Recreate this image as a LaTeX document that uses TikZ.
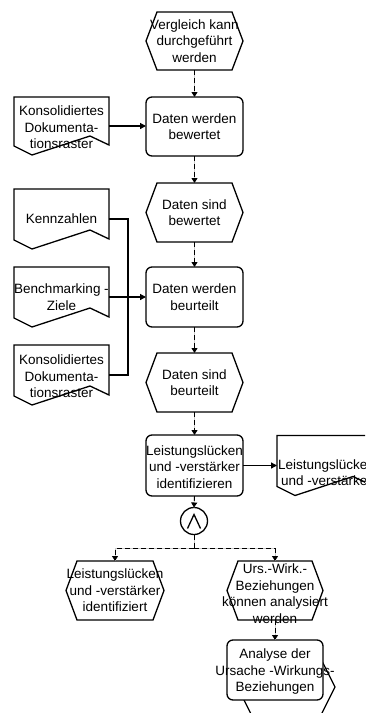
\documentclass[tikz,border=0pt]{standalone}
\usepackage{fontspec}
\setmainfont{Liberation Sans}
\usetikzlibrary{arrows.meta}

% hexagonal event outline around a (rectangular) node: #1 node, #2 side inset
\newcommand\eventoutline[2]{%
  \path[outline] (#1.west) -- ([xshift=#2]#1.north west) -- ([xshift=-#2]#1.north east)
    -- (#1.east) -- ([xshift=-#2]#1.south east) -- ([xshift=#2]#1.south west) -- cycle;}
% document outline with wavy bottom edge
\newcommand\docoutline[1]{%
  \path[outline] (#1.north west) -- (#1.north east) -- ([yshift=10pt]#1.south east)
    -- ([xshift=76pt,yshift=19pt]#1.south west) -- ([xshift=18pt]#1.south west)
    -- ([yshift=9pt]#1.south west) -- cycle;}

\begin{document}
\begin{tikzpicture}[x=1pt,y=-1pt,
  every node/.style={inner sep=0pt, outer sep=0pt},
  box/.style={rectangle, minimum width=97pt, minimum height=59pt},
  outline/.style={draw, line width=1.3pt, line join=miter, fill=white},
  fn/.style={box, draw, line width=1.3pt, rounded corners=6pt, fill=white},
  evt/.style={box},
  doc/.style={rectangle, minimum width=95pt, minimum height=60pt},
  lbl/.style={align=center, font=\fontsize{13.5}{16.5}\selectfont},
  ctrl/.style={line width=0.9pt, dash pattern=on 5pt off 3pt,
    preaction={draw=gray!40, line width=0.7pt, solid, -}},
  flow/.style={ctrl, -{Triangle[length=5pt,width=6pt]}},
  infoline/.style={line width=1.3pt},
  info/.style={infoline, -{Triangle[length=6pt,width=6pt]}},
]
\useasboundingbox (0,0) rectangle (365,713);
\clip (0,0) rectangle (365,713);

% ---- main process chain ----
\node[evt, minimum height=58pt] (e1) at (194.5,41) {};
\eventoutline{e1}{11pt}
\node[fn] (f1) at (194.5,126.5) {};
\node[evt] (e2) at (194.5,212.5) {};
\eventoutline{e2}{11pt}
\node[fn, minimum height=60pt] (f2) at (194.5,297) {};
\node[evt] (e3) at (194.5,382.5) {};
\eventoutline{e3}{11pt}
\node[fn, minimum height=61pt] (f3) at (194.5,465.5) {};
\node[circle, draw, line width=1.3pt, minimum size=27pt, fill=white] (and) at (194,521) {};
\draw[line width=1.3pt, line join=miter]
  ([xshift=-6.5pt,yshift=-7.5pt]and.center) -- ([yshift=6.5pt]and.center)
  -- ([xshift=6.5pt,yshift=-7.5pt]and.center);
\node[evt, minimum width=98pt] (e4) at (115,590.5) {};
\eventoutline{e4}{11pt}
\node[evt, minimum width=96pt] (e5) at (275,590.5) {};
\eventoutline{e5}{11pt}
\node[evt, minimum width=97.5pt, minimum height=60pt] (e6) at (286.25,687) {};
\eventoutline{e6}{15pt}
\node[fn, minimum width=96pt, minimum height=60pt] (f4) at (275,670) {};

% ---- documents ----
\node[doc, minimum height=58pt] (d1) at (61.5,126) {};
\docoutline{d1}
\node[doc] (d2) at (61.5,219) {};
\docoutline{d2}
\node[doc] (d3) at (61.5,297) {};
\docoutline{d3}
\node[doc] (d4) at (61.5,375) {};
\docoutline{d4}
\node[doc] (d5) at (324.5,465.5) {};
\docoutline{d5}

% ---- control flow ----
\draw[flow] (e1.south) -- (f1.north);
\draw[flow] (f1.south) -- (e2.north);
\draw[flow] (e2.south) -- (f2.north);
\draw[flow] (f2.south) -- (e3.north);
\draw[flow] (e3.south) -- (f3.north);
\draw[flow] (f3.south) -- (and.north);
\coordinate (split) at (194,548.5);
\draw[ctrl] (and.south) -- (split);
\draw[flow] (split) -| (e4.north);
\draw[flow] (split) -| (e5.north);
\draw[flow] (e5.south) -- (f4.north);

% ---- information flow ----
\draw[info] (d1.east) -- (d1.east -| f1.west);
\coordinate (bus) at (128,297);
\draw[infoline] (d2.east) -| (bus);
\draw[infoline] (d4.east) -| (bus);
\draw[info] (d3.east) -- (f2.west);
\draw[info] (f3.east) -- (f3.east -| d5.west);

% ---- labels ----
\node[lbl] (t-e1) at (e1) {Vergleich kann\\durchgeführt\\werden};
\node[lbl] (t-f1) at (f1) {Daten werden\\bewertet};
\node[lbl] (t-e2) at (e2) {Daten sind\\bewertet};
\node[lbl] (t-f2) at (f2) {Daten werden\\beurteilt};
\node[lbl] (t-e3) at (e3) {Daten sind\\beurteilt};
\node[lbl] (t-f3) at ([yshift=-1.5pt]f3.center) {Leistungslücken\\und -verstärker\\identifizieren};
\node[lbl] (t-e4) at (e4) {Leistungslücken\\und -verstärker\\identifiziert};
\node[lbl] (t-e5) at ([yshift=-3pt]e5.center) {Urs.-Wirk.-\\Beziehungen\\können analysiert\\werden};
\node[lbl] (t-f4) at ([yshift=-1.5pt]f4.center) {Analyse der\\Ursache -Wirkungs-\\Beziehungen};
\node[lbl] (t-d1) at ([yshift=-1.5pt]d1.center) {Konsolidiertes\\Dokumenta-\\tionsraster};
\node[lbl] (t-d2) at (d2) {Kennzahlen};
\node[lbl] (t-d3) at (d3) {Benchmarking -\\Ziele};
\node[lbl] (t-d4) at ([yshift=-1.5pt]d4.center) {Konsolidiertes\\Dokumenta-\\tionsraster};
\node[lbl, anchor=west] (t-d5) at ([xshift=1pt,yshift=-7pt]d5.west) {Leistungslücken\\und -verstärker};
\end{tikzpicture}
\end{document}
